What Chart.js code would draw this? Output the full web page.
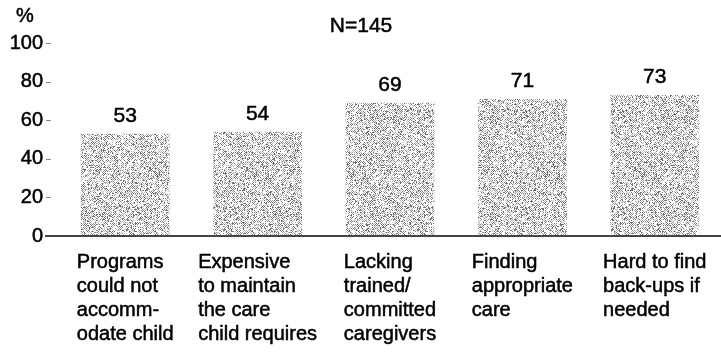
<!DOCTYPE html>
<html>
<head>
<meta charset="utf-8">
<script src="https://cdn.jsdelivr.net/npm/chart.js@4/dist/chart.umd.min.js"></script>
<style>
  body { margin: 0; background: #fff; }
  #wrap { width: 721px; height: 357px; }
</style>
</head>
<body>
<div id="wrap"><canvas id="myChart" width="721" height="357"></canvas></div>
<script>
const categories = [
  ['Programs', 'could not', 'accomm-', 'odate child'],
  ['Expensive', 'to maintain', 'the care', 'child requires'],
  ['Lacking', 'trained/', 'committed', 'caregivers'],
  ['Finding', 'appropriate', 'care'],
  ['Hard to find', 'back-ups if', 'needed']
];
const values = [53, 54, 69, 71, 73];
const yTicks = [0, 20, 40, 60, 80, 100];
const titleText = 'N=145';
const unitText = '%';

const FONT = '"Liberation Sans", Arial, sans-serif';

// stippled grey fill like the scanned bars
function stipplePattern(){
  const size = 97;
  const c = document.createElement('canvas');
  c.width = size; c.height = size;
  const g = c.getContext('2d');
  const img = g.createImageData(size, size);
  for(let y=0; y<size; y++){
    for(let x=0; x<size; x++){
      let h = Math.sin(x*12.9898 + y*78.233) * 43758.5453;
      h = h - Math.floor(h);
      let v = 255;
      if((x+y) % 2 == 0){
        if(h < 0.4) v = 120;
        else if(h < 0.7) v = 185;
      } else if(h < 0.08){
        v = 110;
      }
      const k = (y*size + x) * 4;
      img.data[k] = v; img.data[k+1] = v; img.data[k+2] = v; img.data[k+3] = 255;
    }
  }
  g.putImageData(img, 0, 0);
  return g.createPattern(c, 'repeat');
}

// draws text slightly heavier, like the scan
function heavyText(ctx, s, x, y){
  ctx.fillText(s, x, y);
  ctx.strokeText(s, x, y);
}

const extras = {
  id: 'extras',
  afterDraw(chart){
    const ctx = chart.ctx;
    const yScale = chart.scales.y;
    const xScale = chart.scales.x;
    const bottom = yScale.getPixelForValue(0);
    ctx.save();

    // small tick marks
    ctx.strokeStyle = '#888';
    ctx.lineWidth = 1;
    yTicks.forEach(function(t){
      if(t == 0) return;
      const py = Math.round(yScale.getPixelForValue(t)) + 0.5;
      ctx.beginPath();
      ctx.moveTo(46, py);
      ctx.lineTo(51, py);
      ctx.stroke();
    });

    // baseline
    ctx.strokeStyle = '#444';
    ctx.lineWidth = 2;
    ctx.beginPath();
    ctx.moveTo(45, Math.round(bottom));
    ctx.lineTo(chart.width, Math.round(bottom));
    ctx.stroke();

    ctx.fillStyle = '#000';
    ctx.strokeStyle = '#000';
    ctx.lineWidth = 0.5;

    // value labels
    ctx.font = '21px ' + FONT;
    ctx.textAlign = 'center';
    ctx.textBaseline = 'alphabetic';
    const meta = chart.getDatasetMeta(0);
    meta.data.forEach(function(bar, i){
      heavyText(ctx, String(values[i]), bar.x, bar.y - 12);
    });

    // category labels, left aligned block centred under each bar
    ctx.font = '20px ' + FONT;
    ctx.textAlign = 'left';
    categories.forEach(function(lines, i){
      let w = 0;
      lines.forEach(function(l){ w = Math.max(w, ctx.measureText(l).width); });
      const cx = xScale.getPixelForValue(i);
      lines.forEach(function(l, j){
        heavyText(ctx, l, cx - w/2, bottom + 32 + j*24);
      });
    });

    // title and unit
    ctx.font = '21px ' + FONT;
    ctx.textAlign = 'center';
    ctx.textBaseline = 'middle';
    heavyText(ctx, titleText, 361, 26);
    ctx.font = '20px ' + FONT;
    heavyText(ctx, unitText, 25, 16);

    // y tick labels
    ctx.textAlign = 'right';
    yTicks.forEach(function(t){
      heavyText(ctx, String(t), 43, yScale.getPixelForValue(t));
    });
    ctx.restore();
  }
};

const ctx = document.getElementById('myChart').getContext('2d');
const barChart = new Chart(ctx, {
  type: 'bar',
  data: {
    labels: categories.map(function(c){ return c.join(' '); }),
    datasets: [{
      data: values,
      backgroundColor: stipplePattern(),
      borderWidth: 0,
      barPercentage: 0.67,
      categoryPercentage: 1
    }]
  },
  options: {
    responsive: false,
    animation: false,
    layout: { padding: { top: 43, bottom: 121, left: 0, right: 0 } },
    plugins: { legend: { display: false }, tooltip: { enabled: false } },
    scales: {
      x: { display: false },
      y: {
        min: 0,
        max: 100,
        afterFit: function(scale){ scale.width = 59; },
        grid: { display: false, drawTicks: false },
        border: { display: false },
        ticks: {
          stepSize: 20,
          padding: 17,
          display: false
        }
      }
    }
  },
  plugins: [extras]
});
</script>
</body>
</html>
